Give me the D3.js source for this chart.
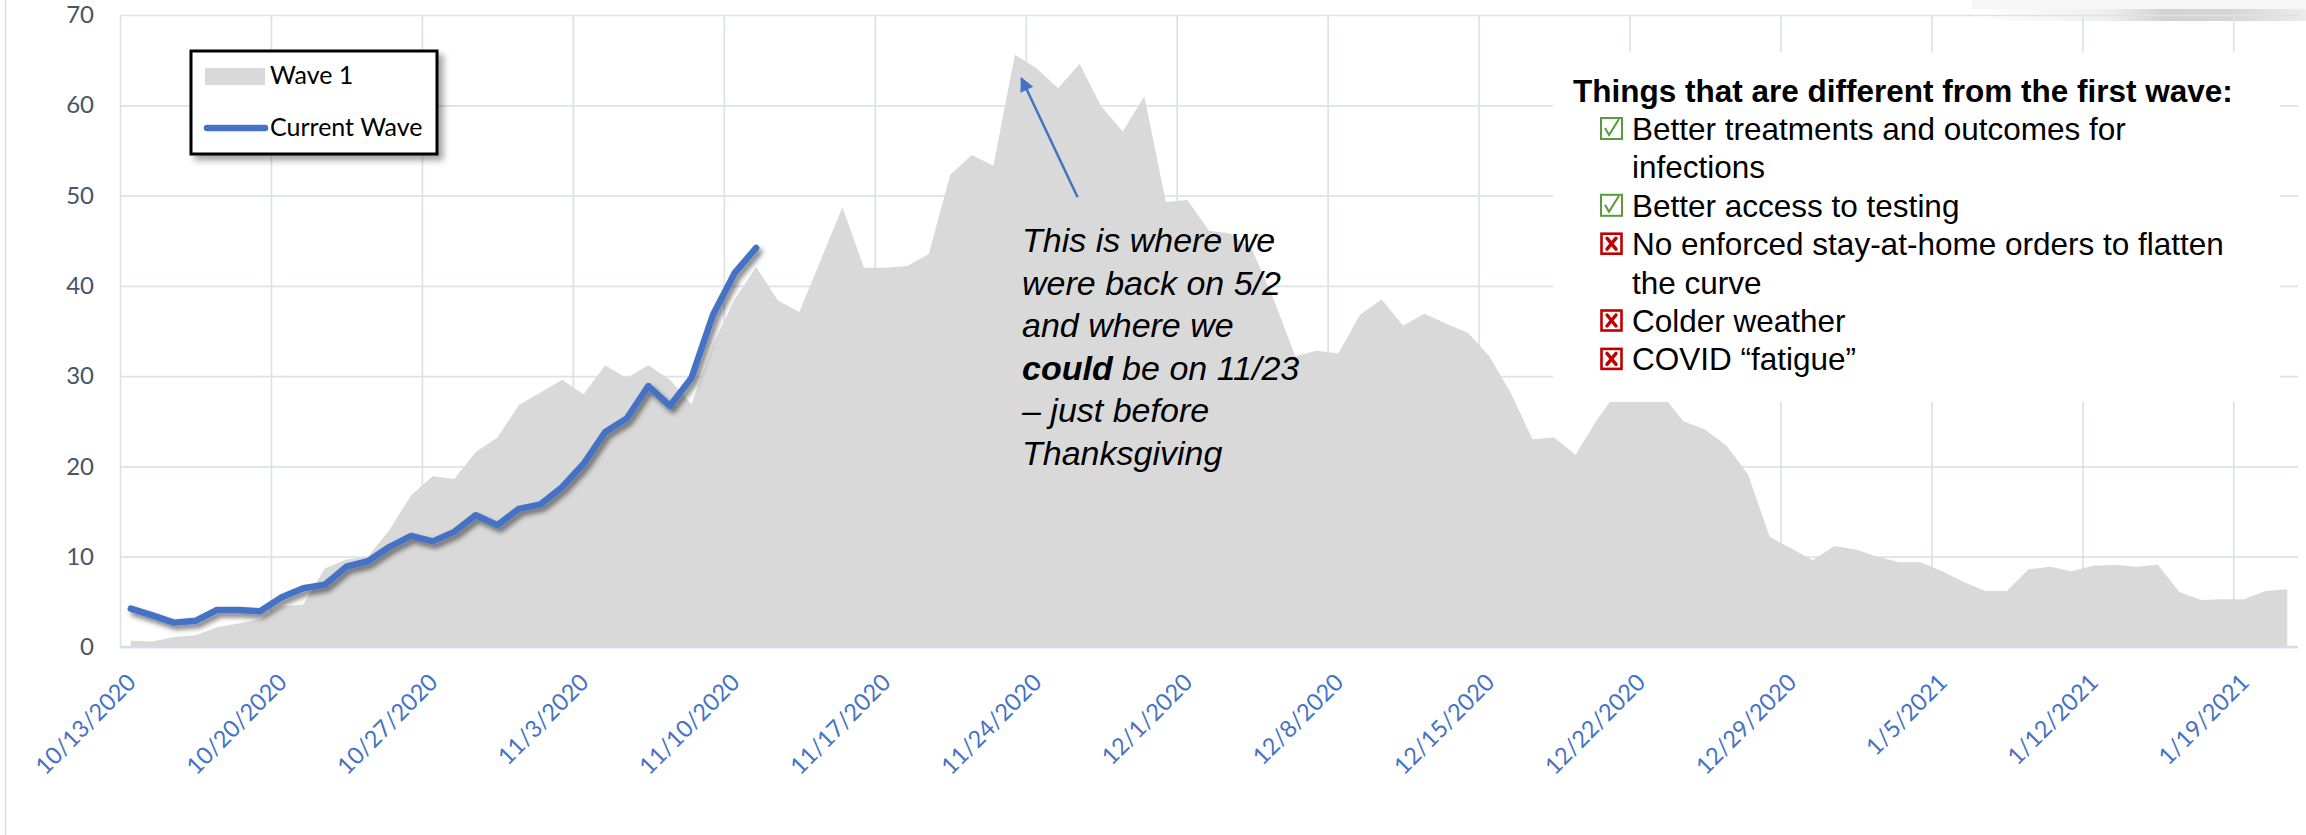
<!DOCTYPE html>
<html>
<head>
<meta charset="utf-8">
<script src="https://cdn.jsdelivr.net/npm/d3@7"></script>
<style>
    body { margin: 0; background: #ffffff; }
    svg { display: block; }
</style>
</head>
<body>
<div id="chart"></div>
<script>

// x axis tick labels (one per week)
var tickLabels = ["10/13/2020", "10/20/2020", "10/27/2020", "11/3/2020", "11/10/2020", "11/17/2020",
    "11/24/2020", "12/1/2020", "12/8/2020", "12/15/2020", "12/22/2020", "12/29/2020",
    "1/5/2021", "1/12/2021", "1/19/2021"];

var yTicks = [0, 10, 20, 30, 40, 50, 60, 70];

// daily values, first day = 10/13/2020
var wave1 = [0.7, 0.6, 1.1, 1.3, 2.2, 2.6, 3.1, 4.5, 4.7, 8.7,
    9.7, 10.0, 13.0, 16.8, 18.9, 18.6, 21.6, 23.2, 26.8, 28.2,
    29.6, 28.0, 31.2, 29.8, 31.2, 29.6, 26.9, 33.5, 38.5, 42.1,
    38.4, 37.1, 42.9, 48.7, 42.0, 42.0, 42.2, 43.5, 52.3, 54.5,
    53.3, 65.6, 64.1, 61.9, 64.6, 59.9, 57.1, 61.0, 49.3, 49.5,
    46.1, 45.8, 44.0, 38.5, 32.2, 32.8, 32.5, 36.8, 38.5, 35.6,
    36.9, 35.8, 34.8, 32.2, 28.1, 23.0, 23.2, 21.3, 25.2, 28.5,
    29.0, 28.0, 25.0, 24.1, 22.3, 19.1, 12.2, 10.9, 9.6, 11.2,
    10.8, 10.0, 9.4, 9.4, 8.4, 7.2, 6.2, 6.2, 8.6, 8.9,
    8.4, 9.0, 9.1, 8.9, 9.1, 6.1, 5.2, 5.3, 5.3, 6.2,
    6.4];

var currentWave = [4.25, 3.5, 2.7, 2.9, 4.1, 4.1, 3.95, 5.5, 6.5, 6.9,
    8.9, 9.5, 11.1, 12.3, 11.7, 12.75, 14.6, 13.5, 15.3, 15.8,
    17.7, 20.3, 23.8, 25.3, 28.9, 26.7, 29.8, 36.8, 41.4, 44.2];

var seriesNames = ["Wave 1", "Current Wave"];

var noteLines = [
    [{ t: "This is where we" }],
    [{ t: "were back on 5/2" }],
    [{ t: "and where we" }],
    [{ t: "could", b: true }, { t: " be on 11/23" }],
    [{ t: "\u2013 just before" }],
    [{ t: "Thanksgiving" }]
];

var listTitle = "Things that are different from the first wave:";
var listItems = [
    { good: true, lines: ["Better treatments and outcomes for", "infections"] },
    { good: true, lines: ["Better access to testing"] },
    { good: false, lines: ["No enforced stay-at-home orders to flatten", "the curve"] },
    { good: false, lines: ["Colder weather"] },
    { good: false, lines: ["COVID \u201cfatigue\u201d"] }
];

function drawChart() {
    var width = 2306, height = 835;
    var plotLeft = 120, plotRight = 2298, plotTop = 15, plotBottom = 647;

    var svg = d3.select("#chart").append("svg")
        .attr("width", width)
        .attr("height", height);

    var defs = svg.append("defs");
    var sh = defs.append("filter").attr("id", "lineShadow")
        .attr("x", "-5%").attr("y", "-5%").attr("width", "110%").attr("height", "115%");
    sh.append("feDropShadow").attr("dx", 3).attr("dy", 4).attr("stdDeviation", 2.5)
        .attr("flood-color", "#000").attr("flood-opacity", 0.5);

    var lsh = defs.append("filter").attr("id", "boxShadow")
        .attr("x", "-10%").attr("y", "-10%").attr("width", "130%").attr("height", "140%");
    lsh.append("feDropShadow").attr("dx", 5).attr("dy", 5).attr("stdDeviation", 3)
        .attr("flood-color", "#000").attr("flood-opacity", 0.35);

    var grad = defs.append("linearGradient").attr("id", "topBar");
    grad.append("stop").attr("offset", "0%").attr("stop-color", "#ffffff");
    grad.append("stop").attr("offset", "40%").attr("stop-color", "#efefef");
    grad.append("stop").attr("offset", "58%").attr("stop-color", "#d2d2d2");
    grad.append("stop").attr("offset", "78%").attr("stop-color", "#d6d6d6");
    grad.append("stop").attr("offset", "100%").attr("stop-color", "#ececec");

    defs.append("marker").attr("id", "arrowHead")
        .attr("viewBox", "0 0 10 10").attr("refX", 9).attr("refY", 5)
        .attr("markerWidth", 16).attr("markerHeight", 14)
        .attr("markerUnits", "userSpaceOnUse")
        .attr("orient", "auto")
        .append("path").attr("d", "M0,0L10,5L0,10z").attr("fill", "#4472C4");

    var parseDate = d3.utcParse("%m/%d/%Y");
    var startDay = parseDate(tickLabels[0]);
    var endDay = d3.utcDay.offset(startDay, wave1.length);
    var days = d3.utcDay.range(startDay, endDay);

    var x = d3.scaleUtc().domain([startDay, endDay]).range([plotLeft, plotRight]);
    var y = d3.scaleLinear().domain([0, 70]).range([plotBottom, plotTop]);

    // points sit in the middle of each day slot
    function xMid(d) { return x(d3.utcHour.offset(d, 12)); }

    // left edge line of the chart frame
    svg.append("line").attr("x1", 5.5).attr("x2", 5.5).attr("y1", 0).attr("y2", height)
        .attr("stroke", "#dcdcdc").attr("stroke-width", 1.5);

    // top right leftover bar
    svg.append("rect").attr("x", 1972).attr("y", 0).attr("width", 334).attr("height", 9)
        .attr("fill", "#f6f6f6");
    svg.append("rect").attr("x", 1972).attr("y", 9).attr("width", 334).attr("height", 12)
        .attr("fill", "url(#topBar)");

    // y axis + horizontal gridlines
    var yAxis = svg.append("g")
        .attr("transform", "translate(" + plotLeft + ",0)")
        .call(d3.axisLeft(y).tickValues(yTicks).tickSize(-(plotRight - plotLeft)).tickPadding(26));
    yAxis.select(".domain").remove();
    yAxis.selectAll("line").attr("stroke", "#dde2ea").attr("stroke-width", 1.7);
    yAxis.selectAll("text")
        .attr("fill", "#475468")
        .style("font-family", "Lato, 'Open Sans', sans-serif")
        .style("font-size", "24px");

    // x axis + vertical gridlines
    var tickDates = tickLabels.map(function (t) { return parseDate(t); });
    var xAxis = svg.append("g")
        .attr("transform", "translate(0," + plotBottom + ")")
        .call(d3.axisBottom(x).tickValues(tickDates).tickSize(-(plotBottom - plotTop))
            .tickFormat(function (d, i) { return tickLabels[i]; }));
    xAxis.select(".domain").remove();
    xAxis.selectAll("line").attr("stroke", "#dde2ea").attr("stroke-width", 1.7);
    xAxis.selectAll("text")
        .attr("x", 0).attr("y", 0).attr("dy", "0.35em")
        .attr("transform", "translate(11,31) rotate(-45)")
        .style("text-anchor", "end")
        .attr("fill", "#4472C4")
        .style("font-family", "Lato, 'Open Sans', sans-serif")
        .style("font-size", "23.5px");

    // wave 1 area
    var area = d3.area()
        .x(function (d, i) { return xMid(days[i]); })
        .y0(y(0))
        .y1(function (d) { return y(d); });

    svg.append("path")
        .datum(wave1)
        .attr("d", area)
        .attr("fill", "#d9d9d9");

    // bottom axis line
    svg.append("line").attr("x1", plotLeft).attr("x2", plotRight).attr("y1", plotBottom).attr("y2", plotBottom)
        .attr("stroke", "#d6dce4").attr("stroke-width", 2.5);

    // current wave line
    var line = d3.line()
        .x(function (d, i) { return xMid(days[i]); })
        .y(function (d) { return y(d); });

    svg.append("path")
        .datum(currentWave)
        .attr("d", line)
        .attr("fill", "none")
        .attr("stroke", "#4472C4")
        .attr("stroke-width", 6.5)
        .attr("stroke-linejoin", "round")
        .attr("stroke-linecap", "round")
        .attr("filter", "url(#lineShadow)");

    // annotation arrow and text
    svg.append("line")
        .attr("x1", 1077.6).attr("y1", 197.3).attr("x2", 1021.4).attr("y2", 78.3)
        .attr("stroke", "#4472C4").attr("stroke-width", 2.5)
        .attr("marker-end", "url(#arrowHead)");

    var note = svg.append("text")
        .attr("font-family", "'Liberation Sans', Arial, sans-serif")
        .attr("font-size", 34)
        .attr("font-style", "italic")
        .attr("fill", "#000");
    noteLines.forEach(function (parts, i) {
        var first = true;
        parts.forEach(function (p) {
            var ts = note.append("tspan").text(p.t);
            if (first) ts.attr("x", 1022).attr("y", 252 + i * 42.6);
            if (p.b) ts.attr("font-weight", "bold");
            first = false;
        });
    });

    // white text box on the right
    svg.append("rect").attr("x", 1553).attr("y", 52).attr("width", 727).attr("height", 350)
        .attr("fill", "#ffffff");

    svg.append("text")
        .attr("x", 1573).attr("y", 102)
        .attr("font-family", "'Liberation Sans', Arial, sans-serif")
        .attr("font-size", 31.5)
        .attr("font-weight", "bold")
        .attr("fill", "#000")
        .text(listTitle);

    var row = 0;
    listItems.forEach(function (item) {
        var base = 140 + row * 38.4;
        var g = svg.append("g").attr("transform", "translate(1600," + (base - 23) + ")");
        if (item.good) {
            g.append("rect").attr("x", 1).attr("y", 1).attr("width", 21).attr("height", 21)
                .attr("fill", "none").attr("stroke", "#5b9a3a").attr("stroke-width", 2);
            g.append("path").attr("d", "M5,11 L9,18 L19,2")
                .attr("fill", "none").attr("stroke", "#5b9a3a").attr("stroke-width", 2);
        } else {
            g.append("rect").attr("x", 1.5).attr("y", 1.5).attr("width", 20).attr("height", 20)
                .attr("fill", "none").attr("stroke", "#c00000").attr("stroke-width", 2.6);
            g.append("path").attr("d", "M7,6 L16,17 M16,6 L7,17")
                .attr("fill", "none").attr("stroke", "#c00000").attr("stroke-width", 3.4)
                .attr("stroke-linecap", "round");
        }
        item.lines.forEach(function (t) {
            svg.append("text")
                .attr("x", 1632).attr("y", 140 + row * 38.4)
                .attr("font-family", "'Liberation Sans', Arial, sans-serif")
                .attr("font-size", 31.5)
                .attr("fill", "#000")
                .text(t);
            row++;
        });
    });

    // legend
    var legend = svg.append("g");
    legend.append("rect").attr("x", 191).attr("y", 51).attr("width", 246).attr("height", 103)
        .attr("fill", "#ffffff").attr("stroke", "#000").attr("stroke-width", 3)
        .attr("filter", "url(#boxShadow)");
    legend.append("rect").attr("x", 205).attr("y", 68).attr("width", 60).attr("height", 17)
        .attr("fill", "#d9d9d9");
    legend.append("line").attr("x1", 207).attr("x2", 265).attr("y1", 128).attr("y2", 128)
        .attr("stroke", "#4472C4").attr("stroke-width", 6.5).attr("stroke-linecap", "round");
    legend.selectAll(".ltext")
        .data(seriesNames)
        .enter().append("text")
        .attr("class", "ltext")
        .attr("x", 270)
        .attr("y", function (d, i) { return i === 0 ? 84 : 136; })
        .attr("font-family", "Lato, 'Open Sans', sans-serif")
        .attr("font-size", 25)
        .attr("fill", "#000")
        .text(function (d) { return d; });
}

drawChart();

</script>
</body>
</html>
